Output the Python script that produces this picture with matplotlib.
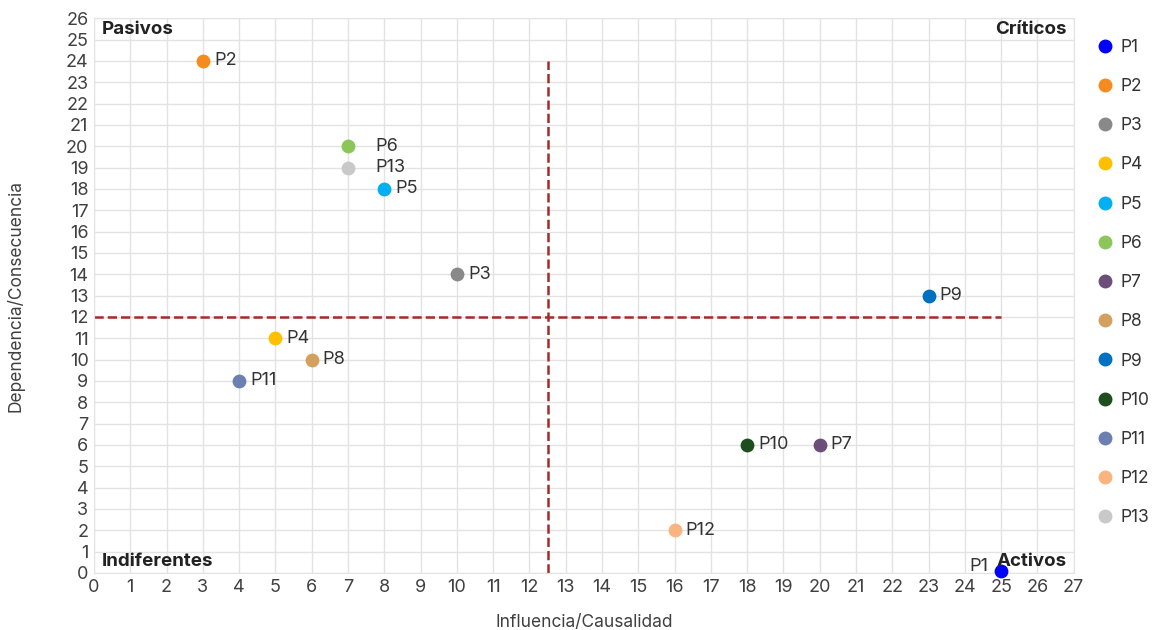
import matplotlib.pyplot as plt
from matplotlib.lines import Line2D

plt.rcParams['font.family'] = ['Inter', 'DejaVu Sans']

# data
names = ["P1", "P2", "P3", "P4", "P5", "P6", "P7", "P8", "P9", "P10", "P11", "P12", "P13"]
influencia = [25, 3, 10, 5, 8, 7, 20, 6, 23, 18, 4, 16, 7]
dependencia = [0.1, 24, 14, 11, 18, 20, 6, 10, 13, 6, 9, 2, 19]
colors = ["#0000ff", "#f58b1f", "#898989", "#ffc000", "#00b0f0", "#8cc65a",
          "#6b4f7a", "#d4a05f", "#0070c0", "#1e4d1e", "#6b80b0", "#f9b47f", "#c9c9c9"]

x_cut = 12.5
y_cut = 12

fig = plt.figure(figsize=(11.52, 6.3), dpi=100)
ax = fig.add_axes([0.0816, 0.0905, 0.8504, 0.8805])

for n, x, y, c in zip(names, influencia, dependencia, colors):
    ax.scatter(x, y, s=80, color=c, zorder=3, label=n, clip_on=False)
    if n == "P1":
        ax.annotate(n, (x, y), xytext=(-9, 3), textcoords="offset points",
                    ha="right", va="center", fontsize=13, color="#333333")
    elif n in ("P6", "P13"):
        ax.annotate(n, (x, y), xytext=(20, 0), textcoords="offset points",
                    ha="left", va="center", fontsize=13, color="#333333")
    else:
        ax.annotate(n, (x, y), xytext=(8, 0), textcoords="offset points",
                    ha="left", va="center", fontsize=13, color="#333333")

# quadrant lines
ax.plot([x_cut, x_cut], [0, 24], ls="--", color="#a52a2a", lw=1.8, zorder=2)
ax.plot([0, 25], [y_cut, y_cut], ls="--", color="#a52a2a", lw=1.8, zorder=2)

# quadrant labels
ax.text(0.2, 25.85, "Pasivos", fontsize=13.5, fontweight="bold", va="top", color="#222222")
ax.text(26.8, 25.85, "Críticos", fontsize=13.5, fontweight="bold", va="top", ha="right", color="#222222")
ax.text(0.2, 0.15, "Indiferentes", fontsize=13.5, fontweight="bold", va="bottom", color="#222222")
ax.text(26.8, 0.15, "Activos", fontsize=13.5, fontweight="bold", va="bottom", ha="right", color="#222222")

ax.set_xlim(0, 27)
ax.set_ylim(0, 26)
ax.set_xticks(range(0, 28))
ax.set_yticks(range(0, 27))
ax.tick_params(length=0, labelsize=13, colors="#404040", pad=4)
ax.grid(True, color="#e3e3e3", lw=1)
ax.set_axisbelow(True)
for s in ax.spines.values():
    s.set_color("#e3e3e3")

ax.set_xlabel("Influencia/Causalidad", fontsize=12.5, color="#404040", labelpad=13)
ax.set_ylabel("Dependencia/Consecuencia", fontsize=12.5, color="#404040", labelpad=30)

handles = [Line2D([], [], marker="o", ls="", color=c, markersize=9) for c in colors]
fig.legend(handles, names, loc="upper left", bbox_to_anchor=(0.944, 0.955),
           frameon=False, fontsize=12.5, labelspacing=1.28, handletextpad=0.5,
           handlelength=0.8, labelcolor="#333333", borderaxespad=0.2)

fig.savefig("out.png", dpi=100)
